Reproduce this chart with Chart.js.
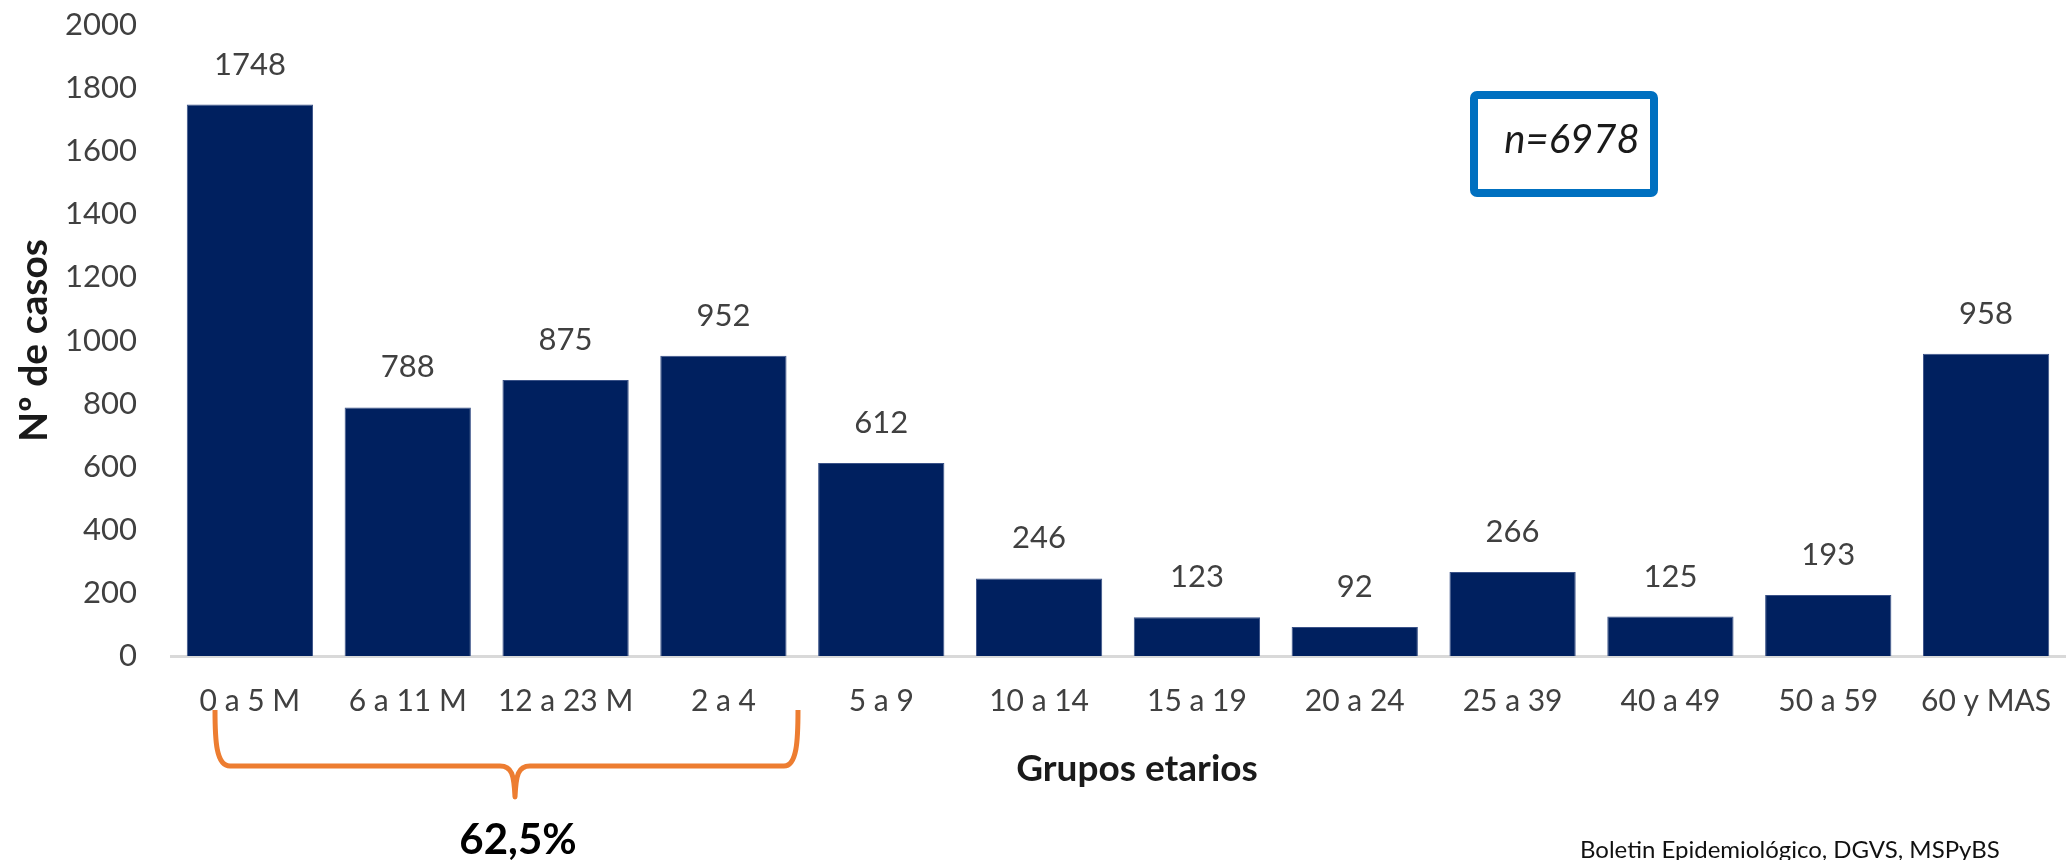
<!DOCTYPE html>
<html lang="es">
<head>
<meta charset="utf-8">
<title>Casos por grupos etarios</title>
<script src="https://cdn.jsdelivr.net/npm/chart.js@4.4.1/dist/chart.umd.min.js"></script>
<style>
  html, body { margin: 0; padding: 0; background: #ffffff; }
  #wrap { position: relative; width: 2066px; height: 860px; }
</style>
</head>
<body>
<div id="wrap"><canvas id="edadChart"></canvas></div>
<script>
// Casos por grupo de edad
const grupos = ['0 a 5 M', '6 a 11 M', '12 a 23 M', '2 a 4', '5 a 9', '10 a 14',
                '15 a 19', '20 a 24', '25 a 39', '40 a 49', '50 a 59', '60 y MAS'];
const casos = [1748, 788, 875, 952, 612, 246, 123, 92, 266, 125, 193, 958];
const yTicks = [0, 200, 400, 600, 800, 1000, 1200, 1400, 1600, 1800, 2000];
const totalCasos = 'n=6978';
const porcentajeMenores = '62,5%';
const tituloX = 'Grupos etarios';
const fuente = 'Boletin Epidemiológico, DGVS, MSPyBS';

const FONT = 'Lato, "Open Sans", sans-serif';
const GRIS = '#404040';

/**
 * Value labels above each bar, read from the bar elements
 */
const valueLabels = {
    id: 'valueLabels',
    afterDatasetsDraw(chart) {
        const ctx = chart.ctx;
        const meta = chart.getDatasetMeta(0);
        ctx.save();
        ctx.font = '31px ' + FONT;
        ctx.fillStyle = GRIS;
        ctx.textAlign = 'center';
        ctx.textBaseline = 'alphabetic';
        meta.data.forEach((bar, i) => {
            ctx.fillText(String(casos[i]), bar.x, bar.y - 30);
        });
        ctx.restore();
    }
};

/**
 * Extra notes: axis title, total box, brace under the first groups and source line
 */
const notes = {
    id: 'notes',
    afterDraw(chart) {
        const ctx = chart.ctx;
        const area = chart.chartArea;
        ctx.save();

        // x axis title, sits a bit right of the plot centre
        ctx.fillStyle = '#1a1a1a';
        ctx.font = 'bold 37px ' + FONT;
        ctx.textAlign = 'center';
        ctx.textBaseline = 'middle';
        ctx.fillText(tituloX, (area.left + area.right) / 2 + 19, 769);

        // total box
        ctx.strokeStyle = '#0070C0';
        ctx.lineWidth = 8;
        ctx.beginPath();
        ctx.roundRect(1474, 95, 180, 98, 3);
        ctx.stroke();
        ctx.font = 'italic 40px ' + FONT;
        ctx.fillText(totalCasos, 1572, 140);

        // orange brace
        ctx.strokeStyle = '#ED7D31';
        ctx.lineWidth = 5;
        ctx.lineJoin = 'round';
        ctx.beginPath();
        ctx.moveTo(215, 710);
        ctx.bezierCurveTo(215, 740, 216, 766, 230, 766);
        ctx.lineTo(500, 766);
        ctx.bezierCurveTo(512, 766, 514, 775, 515, 797);
        ctx.bezierCurveTo(516, 775, 518, 766, 530, 766);
        ctx.lineTo(784, 766);
        ctx.bezierCurveTo(797, 766, 798, 740, 798, 710);
        ctx.stroke();

        ctx.fillStyle = '#000000';
        ctx.font = 'bold 42px ' + FONT;
        ctx.fillText(porcentajeMenores, 518, 840);

        // source
        ctx.font = '24px ' + FONT;
        ctx.textAlign = 'left';
        ctx.textBaseline = 'alphabetic';
        ctx.fillStyle = '#111111';
        ctx.fillText(fuente, 1580, 858);

        ctx.restore();
    }
};

function initEdadChart() {
    const ctx = document.getElementById('edadChart').getContext('2d');
    return new Chart(ctx, {
        type: 'bar',
        data: {
            labels: grupos,
            datasets: [{
                data: casos,
                backgroundColor: '#00205F',
                borderColor: '#3a5288',
                borderWidth: 1,
                categoryPercentage: 1.0,
                barPercentage: 0.8
            }]
        },
        options: {
            responsive: true,
            maintainAspectRatio: false,
            animation: false,
            layout: { padding: { top: 25, right: 1, left: 0, bottom: 0 } },
            plugins: {
                legend: { display: false },
                tooltip: { enabled: false }
            },
            scales: {
                x: {
                    grid: { display: false },
                    border: { display: true, color: '#d9d9d9', width: 3 },
                    ticks: {
                        color: GRIS,
                        font: { family: FONT, size: 30 },
                        padding: 19,
                        maxRotation: 0,
                        autoSkip: false
                    },
                    afterFit(scale) {
                        scale.height = 204;
                        scale.paddingLeft = 0;
                        scale.paddingRight = 0;
                    }
                },
                y: {
                    min: 0,
                    max: 2000,
                    afterBuildTicks(scale) {
                        scale.ticks = yTicks.map(v => ({ value: v }));
                    },
                    grid: { display: false },
                    border: { display: false },
                    ticks: {
                        color: GRIS,
                        font: { family: FONT, size: 31 },
                        padding: 26,
                        callback: value => String(value)
                    },
                    title: {
                        display: true,
                        text: 'Nº de casos',
                        color: '#1a1a1a',
                        font: { family: FONT, size: 39, weight: 'bold' },
                        padding: { top: 11, bottom: 0 }
                    },
                    afterFit(scale) {
                        scale.width = 171;
                        scale.paddingTop = 0;
                        scale.paddingBottom = 0;
                    }
                }
            }
        },
        plugins: [valueLabels, notes]
    });
}

document.addEventListener('DOMContentLoaded', function() {
    initEdadChart();
});
</script>
</body>
</html>
